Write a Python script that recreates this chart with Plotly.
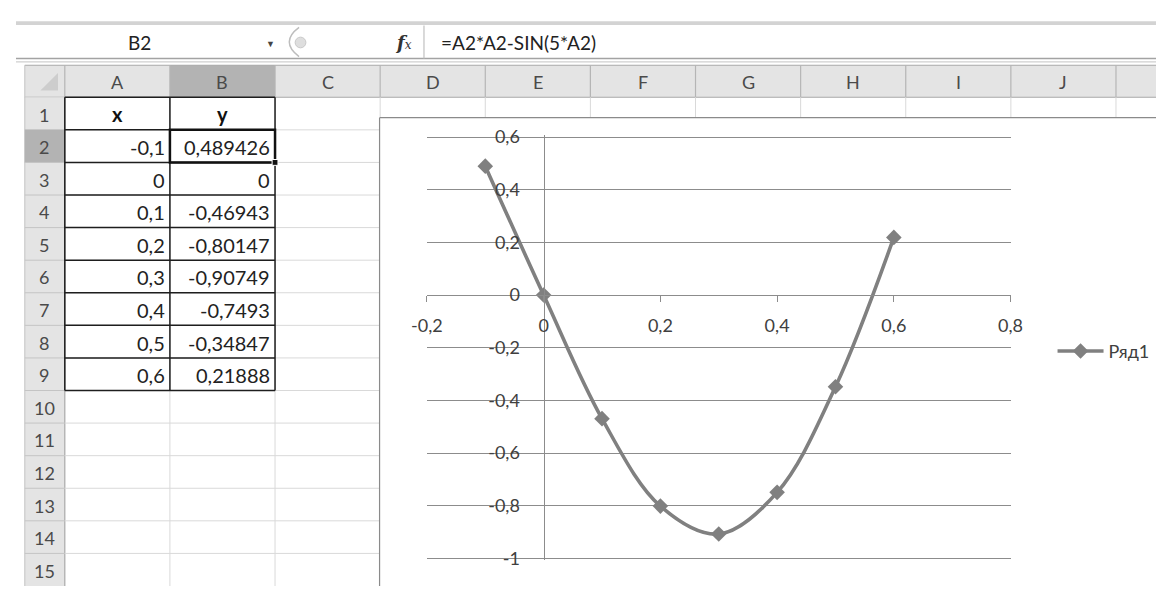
import plotly.graph_objects as go

# ---------------- data ----------------
x_vals = [-0.1, 0, 0.1, 0.2, 0.3, 0.4, 0.5, 0.6]
y_vals = [0.489426, 0, -0.46943, -0.80147, -0.90749, -0.7493, -0.34847, 0.21888]
series_name = "Ряд1"
x_tick_vals = [-0.2, 0, 0.2, 0.4, 0.6, 0.8]
x_tick_text = ["-0,2", "0", "0,2", "0,4", "0,6", "0,8"]
y_tick_vals = [-1, -0.8, -0.6, -0.4, -0.2, 0, 0.2, 0.4, 0.6]
y_tick_text = ["-1", "-0,8", "-0,6", "-0,4", "-0,2", "0", "0,2", "0,4", "0,6"]
col_letters = ["A", "B", "C", "D", "E", "F", "G", "H", "I", "J"]
row_numbers = list(range(1, 16))
header_x, header_y = "x", "y"
cell_ref = "B2"
formula = "=A2*A2-SIN(5*A2)"

# ---------------- geometry helpers ----------------
W, H = 1168, 594
def px(x):
    return min(max(x, 0), W) / W
def py(y):
    return 1 - min(max(y, 0), H) / H

FONT = "Lato, 'Open Sans', sans-serif"
GRID = "#d9d9d9"
HDR = "#e4e4e4"
HDR_SEL = "#b3b3b3"
HDR_LINE = "#b5b5b5"

col_left = 50.0
col_w = 107.7
row_top = 90.0
row_h = 33.6
hdr_top, hdr_bot = 57.0, 90.0

shapes = []
annotations = []

def line(x0, y0, x1, y1, color, width=1.0):
    shapes.append(dict(type="line", xref="paper", yref="paper", layer="below",
                       x0=px(x0), y0=py(y0), x1=px(x1), y1=py(y1),
                       line=dict(color=color, width=width)))

def rect(x0, y0, x1, y1, fill, lc=None, lw=0):
    shapes.append(dict(type="rect", xref="paper", yref="paper", layer="below",
                       x0=px(x0), y0=py(y0), x1=px(x1), y1=py(y1),
                       fillcolor=fill,
                       line=dict(color=lc or fill, width=lw)))

def text(x, y, t, size=18, color="#333333", anchor="center", family=FONT):
    annotations.append(dict(xref="paper", yref="paper", x=px(x), y=py(y), text=t,
                            showarrow=False, xanchor=anchor, yanchor="middle",
                            font=dict(family=family, size=size, color=color)))

# ---- formula bar ----
rect(0, 11.5, W, 15.5, "#d3d3d3")
line(0, 50, W, 50, "#a3a3a3", 1.3)
line(0, 53.5, W, 53.5, "#cfcfcf", 1.2)
line(418, 16, 418, 50, "#c0c0c0", 1.2)
shapes.append(dict(type="path", xref="paper", yref="paper", layer="below",
                   path=f"M {px(290)},{py(18)} Q {px(270)},{py(33)} {px(290)},{py(48)}",
                   line=dict(color="#bdbdbd", width=1.5)))
shapes.append(dict(type="circle", xref="paper", yref="paper", layer="below",
                   x0=px(286), y0=py(28), x1=px(297), y1=py(39),
                   fillcolor="#dedede", line=dict(color="#c8c8c8", width=1)))
text(127, 34, cell_ref, 19, "#222222")
text(261, 35, "▼", 9, "#444444")
text(397, 33, "<b><i>f</i></b><i><span style='font-size:12px'>x</span></i>", 18,
     "#333333", family="'DejaVu Serif', serif")
text(433, 34, formula, 19, "#222222", anchor="left")

# ---- column header ----
rect(9, hdr_top, W, hdr_bot, HDR)
rect(col_left + col_w, hdr_top, col_left + 2 * col_w, hdr_bot, HDR_SEL)
line(9, hdr_top, W, hdr_top, "#a9a9a9", 1.2)
line(9, hdr_bot, W, hdr_bot, "#a9a9a9", 1.2)
line(col_left, hdr_top, col_left, hdr_bot, HDR_LINE, 1.2)
for i, letter in enumerate(col_letters):
    x0 = col_left + i * col_w
    line(x0 + col_w, hdr_top, x0 + col_w, hdr_bot, HDR_LINE, 1.2)
    text(x0 + col_w / 2, 74, letter, 18, "#4a4a4a")
# corner triangle
shapes.append(dict(type="path", xref="paper", yref="paper", layer="below",
                   path=f"M {px(25)},{py(83)} L {px(43)},{py(83)} L {px(43)},{py(65)} Z",
                   fillcolor="#cdcdcd", line=dict(width=0)))

# ---- row header ----
rect(9, row_top, col_left, H, HDR)
line(col_left, row_top, col_left, H, "#a9a9a9", 1.2)
line(9, hdr_top, 9, H, "#c4c4c4", 1)
for k, r in enumerate(row_numbers):
    y0 = row_top + k * row_h
    if r == 2:
        rect(9, y0, col_left, y0 + row_h, HDR_SEL)
    if y0 + row_h < H - 1:
        line(9, y0 + row_h, col_left, y0 + row_h, "#c4c4c4", 1)
    text(29, y0 + row_h / 2 + 1, str(r), 18, "#4a4a4a")

# ---- cell grid ----
for i in range(len(col_letters) + 1):
    xx = col_left + (i + 1) * col_w
    if xx < W:
        line(xx, row_top, xx, H, GRID, 1)
for k in range(len(row_numbers)):
    yy = row_top + (k + 1) * row_h
    if yy < H - 1:
        line(col_left, yy, W, yy, GRID, 1)

# ---- data table ----
def fmt(v):
    return f"{v:g}".replace(".", ",")

n_rows = len(x_vals) + 1
tb_bot = row_top + n_rows * row_h
for xx in (col_left, col_left + col_w, col_left + 2 * col_w):
    line(xx, row_top, xx, tb_bot, "#1e1e1e", 1.5)
for k in range(n_rows + 1):
    yy = row_top + k * row_h
    line(col_left, yy, col_left + 2 * col_w, yy, "#1e1e1e", 1.5)
text(col_left + col_w / 2, row_top + row_h / 2, f"<b>{header_x}</b>", 20, "#111111")
text(col_left + 1.5 * col_w, row_top + row_h / 2, f"<b>{header_y}</b>", 20, "#111111")
for k, (xv, yv) in enumerate(zip(x_vals, y_vals)):
    yc = row_top + (k + 1.5) * row_h + 1
    text(col_left + col_w - 3, yc, fmt(xv), 20, "#222222", anchor="right")
    text(col_left + 2 * col_w - 3, yc, fmt(yv), 20, "#222222", anchor="right")
# active cell
rect(col_left + col_w, row_top + row_h, col_left + 2 * col_w, row_top + 2 * row_h,
     "rgba(0,0,0,0)", "#111111", 2.5)
rect(col_left + 2 * col_w - 3, row_top + 2 * row_h - 3,
     col_left + 2 * col_w + 3, row_top + 2 * row_h + 3, "#111111", "#ffffff", 1)

# ---- chart area (extends past the right and bottom edges) ----
rect(372.5, 111, W, H, "#ffffff")
line(372.5, 111, W, 111, "#8a8a8a", 1.2)
line(372.5, 111, 372.5, H, "#8a8a8a", 1.2)

# ---------------- chart ----------------
x_lo_px, x_hi_px = 421.0, 1019.0
y_lo_px, y_hi_px = 565.5, 131.0
x_range = [-0.2, 0.8]
y_core = [-1, 0.6]
ppu_y = (y_lo_px - y_hi_px) / (y_core[1] - y_core[0])
pad = 2.0  # px, keeps end grid lines from being clipped
y_range = [y_core[0] - pad / ppu_y, y_core[1] + pad / ppu_y]
xdom = [px(x_lo_px), px(x_hi_px)]
ydom = [py(y_lo_px + pad), py(y_hi_px - pad)]
yaxis_pos = xdom[0] + (0 - x_range[0]) / (x_range[1] - x_range[0]) * (xdom[1] - xdom[0])
xaxis_pos = ydom[0] + (0 - y_range[0]) / (y_range[1] - y_range[0]) * (ydom[1] - ydom[0])

AX = "#8c8c8c"
fig = go.Figure()
fig.add_trace(go.Scatter(
    x=x_vals, y=y_vals, name=series_name, mode="lines+markers",
    line=dict(shape="spline", smoothing=1.0, color="#808080", width=3.6),
    marker=dict(symbol="diamond", size=12, color="#808080"),
))

fig.update_layout(
    width=W, height=H,
    margin=dict(l=0, r=0, t=0, b=0),
    paper_bgcolor="#ffffff",
    plot_bgcolor="rgba(0,0,0,0)",
    separators=", ",
    font=dict(family=FONT, size=18, color="#404040"),
    xaxis=dict(domain=xdom, range=x_range, anchor="free", position=xaxis_pos,
               tickvals=x_tick_vals, ticktext=x_tick_text,
               showgrid=False, zeroline=False, showline=True, linecolor=AX, linewidth=1.3,
               ticks="outside", ticklen=6, tickcolor=AX, tickwidth=1.3,
               ticklabelstandoff=8,
               tickfont=dict(family=FONT, size=18, color="#404040")),
    yaxis=dict(domain=ydom, range=y_range, anchor="free", position=yaxis_pos,
               tickvals=y_tick_vals, ticktext=y_tick_text,
               showgrid=True, gridcolor=AX, gridwidth=1.3,
               zeroline=False, showline=True, linecolor=AX, linewidth=1.3,
               ticks="", ticklabelstandoff=20,
               tickfont=dict(family=FONT, size=18, color="#404040")),
    showlegend=True,
    legend=dict(x=px(1062), y=py(352), xanchor="left", yanchor="middle", itemwidth=46,
                bgcolor="rgba(0,0,0,0)", font=dict(family=FONT, size=18, color="#404040")),
    shapes=shapes,
    annotations=annotations,
)

fig.write_html(
    "out.html",
    config={"displayModeBar": False},
    post_script="document.documentElement.style.margin='0';"
                "document.body.style.margin='0';"
                "document.body.style.padding='0';"
                "document.body.style.overflow='hidden';",
)
